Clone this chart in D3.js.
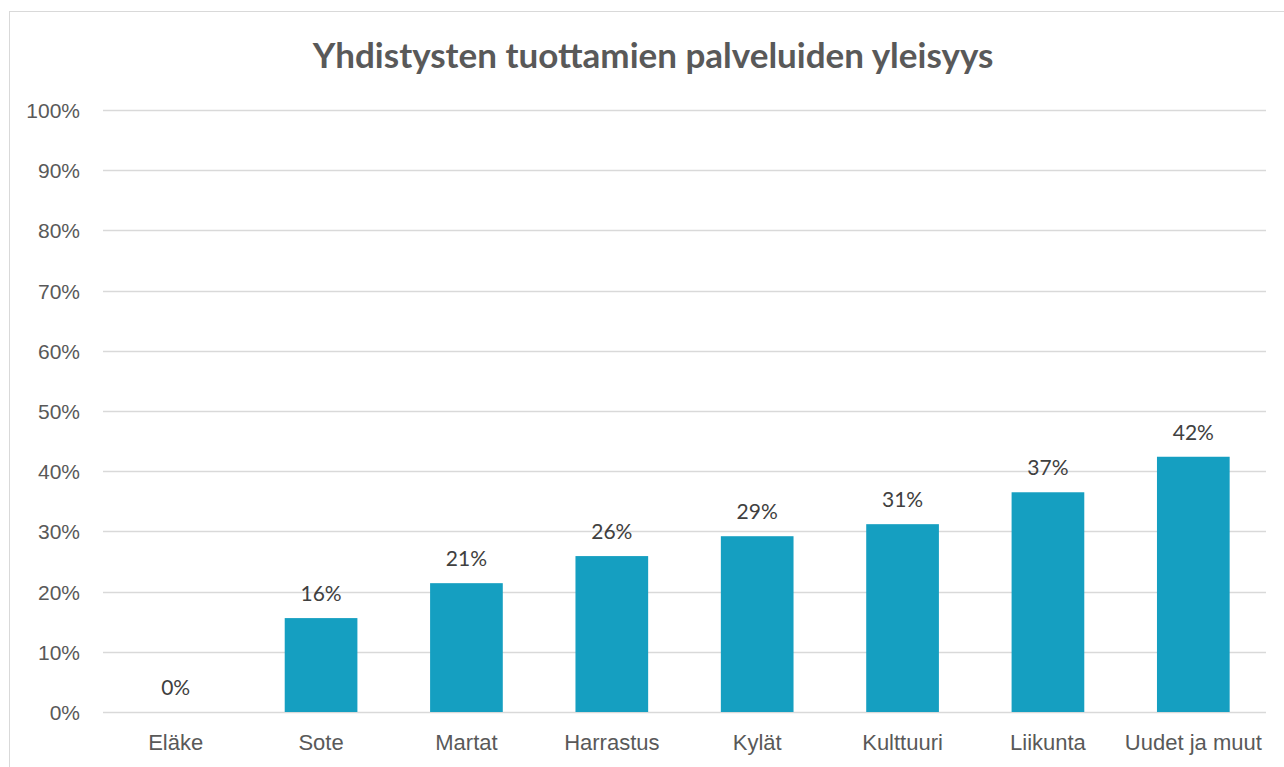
<!DOCTYPE html>
<html><head><meta charset="utf-8">
<script src="https://cdn.jsdelivr.net/npm/d3@7"></script>
<style>body{margin:0;background:#fff;}svg{display:block;font-family:Lato,"Open Sans",sans-serif;}</style>
</head><body>
<svg id="c" width="1284" height="767"></svg>
<script>
const categories = ["Eläke","Sote","Martat","Harrastus","Kylät","Kulttuuri","Liikunta","Uudet ja muut"];
const values = [0, 0.156, 0.214, 0.259, 0.292, 0.312, 0.365, 0.424];
const yTicks = [0,0.1,0.2,0.3,0.4,0.5,0.6,0.7,0.8,0.9,1.0];
const title = "Yhdistysten tuottamien palveluiden yleisyys";

const svg = d3.select("#c");
svg.append("rect").attr("x",9.5).attr("y",11.5).attr("width",1290).attr("height",770)
  .attr("fill","#fff").attr("stroke","#d9d9d9").attr("stroke-width",1);

const x = d3.scaleBand().domain(categories).range([103,1266]).paddingInner(0.5).paddingOuter(0.25);
const y = d3.scaleLinear().domain([0,1]).range([712,110]);
const fmt = d3.format(".0%");

svg.append("g").selectAll("line").data(yTicks).join("line")
  .attr("x1",103).attr("x2",1266).attr("y1",d=>Math.round(y(d))+0.5).attr("y2",d=>Math.round(y(d))+0.5)
  .attr("stroke","#d9d9d9").attr("stroke-width",1.5);

const yAxis = d3.axisLeft(y).tickValues(yTicks).tickFormat(fmt).tickSize(0).tickPadding(0);
const gy = svg.append("g").attr("transform","translate(80,0)").call(yAxis);
gy.select(".domain").remove();
gy.selectAll("text").attr("fill","#595959").style("font-size","21px").attr("dy","0.36em");

const xAxis = d3.axisBottom(x).tickSize(0).tickPadding(0);
const gx = svg.append("g").attr("transform","translate(0,734)").call(xAxis);
gx.select(".domain").remove();
gx.selectAll("text").attr("fill","#595959").style("font-size","22px").attr("dy","0.71em");

svg.append("g").selectAll("rect").data(values).join("rect")
  .attr("x",(d,i)=>x(categories[i])).attr("width",x.bandwidth())
  .attr("y",d=>y(d)).attr("height",d=>y(0)-y(d)).attr("fill","#159fc1");

svg.append("g").selectAll("text").data(values).join("text")
  .attr("x",(d,i)=>x(categories[i])+x.bandwidth()/2).attr("y",d=>y(d)-17)
  .attr("text-anchor","middle").attr("fill","#404040").style("font-size","21px").text(d=>fmt(d));

svg.append("text").attr("x",653).attr("y",68).attr("text-anchor","middle")
  .attr("fill","#595959").style("font-size","35px").style("font-weight","bold").text(title);
</script>
</body></html>
